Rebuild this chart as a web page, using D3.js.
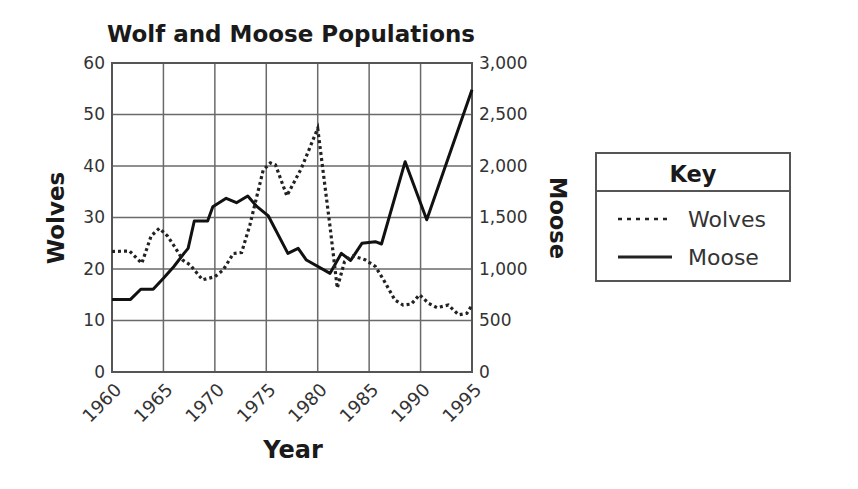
<!DOCTYPE html>
<html>
<head>
<meta charset="utf-8">
<script src="https://cdnjs.cloudflare.com/ajax/libs/d3/7.8.5/d3.min.js"></script>
<style>
body { margin: 0; background: #fff; }
text { font-family: "DejaVu Sans", Verdana, sans-serif; fill: #1a1a1a; }
</style>
</head>
<body>
<div id="chart"></div>
<script>
var w = 858,
	h = 489,
	x0 = 112, x1 = 472, y0 = 63, y1 = 372;

// wolves
var wolfYears = [1960, 1961.7, 1962.9, 1963.8, 1964.6, 1965.4, 1966.1, 1966.9, 1967.6, 1968.8, 1970, 1970.8, 1971.8, 1972.6, 1973.4, 1974.7, 1975.4, 1975.9, 1977, 1978.4, 1980, 1981.2, 1981.9, 1982.6, 1983.3, 1984.6, 1985.6, 1986.4, 1987.5, 1988.3, 1989.1, 1989.9, 1990.8, 1991.6, 1992.7, 1993.7, 1994.5, 1995];
var wolves = [23.4, 23.5, 21.1, 26.4, 27.9, 26.4, 24.3, 21.7, 20.8, 17.9, 18.5, 19.8, 23, 23.2, 28.5, 39.2, 40.6, 40.2, 34.2, 39.5, 47.3, 28.2, 16.3, 21.4, 22.6, 21.8, 20.5, 17.9, 14, 13, 13.2, 15, 13.3, 12.5, 13, 11.1, 11.4, 13];

// moose
var mooseYears = [1960, 1961.8, 1962.8, 1964, 1965, 1966, 1967, 1967.4, 1968, 1969.3, 1969.8, 1971.1, 1972.1, 1973.2, 1974.1, 1975.2, 1977.1, 1978.1, 1978.9, 1981.2, 1982.3, 1983.2, 1984.3, 1985.6, 1986.2, 1988.5, 1990.6, 1995];
var moose = [705, 705, 803, 803, 910, 1022, 1152, 1200, 1466, 1466, 1605, 1686, 1644, 1709, 1605, 1515, 1152, 1200, 1087, 958, 1152, 1083, 1249, 1265, 1243, 2042, 1478, 2740];

var yearTicks = [1960, 1965, 1970, 1975, 1980, 1985, 1990, 1995];
var wolfTicks = [0, 10, 20, 30, 40, 50, 60];
var mooseTicks = [0, 500, 1000, 1500, 2000, 2500, 3000];
var keyNames = ['Wolves', 'Moose'];

var svg = d3.select('#chart').append('svg')
	.attr('width', w)
	.attr('height', h);

var x = d3.scaleLinear().domain([1960, 1995]).range([x0, x1]),
	yW = d3.scaleLinear().domain([0, 60]).range([y1, y0]),
	yM = d3.scaleLinear().domain([0, 3000]).range([y1, y0]);

// grid
svg.append('g').selectAll('line')
	.data(yearTicks)
	.enter().append('line')
	.attr('x1', x).attr('x2', x)
	.attr('y1', y0).attr('y2', y1)
	.style('stroke', '#6a6a6a').style('stroke-width', 1.5);

svg.append('g').selectAll('line')
	.data(wolfTicks)
	.enter().append('line')
	.attr('x1', x0).attr('x2', x1)
	.attr('y1', yW).attr('y2', yW)
	.style('stroke', '#6a6a6a').style('stroke-width', 1.5);

svg.append('rect')
	.attr('x', x0).attr('y', y0)
	.attr('width', x1 - x0).attr('height', y1 - y0)
	.style('fill', 'none').style('stroke', '#555').style('stroke-width', 2);

// axes (labels only, the frame is the rect above)
var axL = svg.append('g')
	.attr('transform', 'translate(' + x0 + ',0)')
	.call(d3.axisLeft(yW).tickValues(wolfTicks).tickSize(0).tickPadding(7));
var axR = svg.append('g')
	.attr('transform', 'translate(' + x1 + ',0)')
	.call(d3.axisRight(yM).tickValues(mooseTicks).tickSize(0).tickPadding(7).tickFormat(d3.format(',')));
var axB = svg.append('g')
	.attr('transform', 'translate(0,' + y1 + ')')
	.call(d3.axisBottom(x).tickValues(yearTicks).tickSize(0).tickFormat(d3.format('d')));

[axL, axR, axB].forEach(function(a) {
	a.select('.domain').remove();
	a.selectAll('text').style('font-size', '17px').style('fill', '#333')
		.style('font-family', '"DejaVu Sans", Verdana, sans-serif');
});

axB.selectAll('text')
	.attr('y', 0).attr('dy', 0)
	.style('font-size', '18px')
	.style('text-anchor', 'end')
	.attr('transform', 'translate(10,19) rotate(-45)');

// lines
var line = function(ys, vs, sc) {
	return d3.line()
		.x(function(d, i) { return x(ys[i]) })
		.y(function(d) { return sc(d) })(vs);
};

svg.append('path')
	.attr('d', line(mooseYears, moose, yM))
	.style('fill', 'none').style('stroke', '#111')
	.style('stroke-width', 3).style('stroke-linejoin', 'round');

svg.append('path')
	.attr('d', line(wolfYears, wolves, yW))
	.style('fill', 'none').style('stroke', '#222')
	.style('stroke-width', 3.2).style('stroke-dasharray', '3,3');

// titles
svg.append('text')
	.attr('x', 291).attr('y', 42)
	.attr('text-anchor', 'middle')
	.style('font-size', '23px').style('font-weight', 'bold')
	.text('Wolf and Moose Populations');

svg.append('text')
	.attr('x', 293).attr('y', 458)
	.attr('text-anchor', 'middle')
	.style('font-size', '24px').style('font-weight', 'bold')
	.text('Year');

svg.append('text')
	.attr('transform', 'translate(64,218) rotate(-90)')
	.attr('text-anchor', 'middle')
	.style('font-size', '23px').style('font-weight', 'bold')
	.text('Wolves');

svg.append('text')
	.attr('transform', 'translate(550,218) rotate(90)')
	.attr('text-anchor', 'middle')
	.style('font-size', '22.5px').style('font-weight', 'bold')
	.text('Moose');

// key
var key = svg.append('g');
key.append('rect')
	.attr('x', 596).attr('y', 153)
	.attr('width', 194).attr('height', 128)
	.style('fill', '#fff').style('stroke', '#555').style('stroke-width', 2);
key.append('line')
	.attr('x1', 596).attr('x2', 790).attr('y1', 191).attr('y2', 191)
	.style('stroke', '#555').style('stroke-width', 2);
key.append('text')
	.attr('x', 693).attr('y', 182)
	.attr('text-anchor', 'middle')
	.style('font-size', '22.5px').style('font-weight', 'bold')
	.text('Key');

key.selectAll('.item')
	.data(keyNames)
	.enter().append('text')
	.attr('x', 688)
	.attr('y', function(d, i) { return 227 + i * 38 })
	.style('font-size', '22px').style('fill', '#333')
	.text(function(d) { return d });

key.selectAll('.sw')
	.data(keyNames)
	.enter().append('line')
	.attr('x1', 618).attr('x2', 672)
	.attr('y1', function(d, i) { return 219 + i * 38 })
	.attr('y2', function(d, i) { return 219 + i * 38 })
	.style('stroke', '#222')
	.style('stroke-width', function(d, i) { return i ? 3 : 2.5 })
	.style('stroke-dasharray', function(d, i) { return i ? null : '4,5' });
</script>
</body>
</html>
